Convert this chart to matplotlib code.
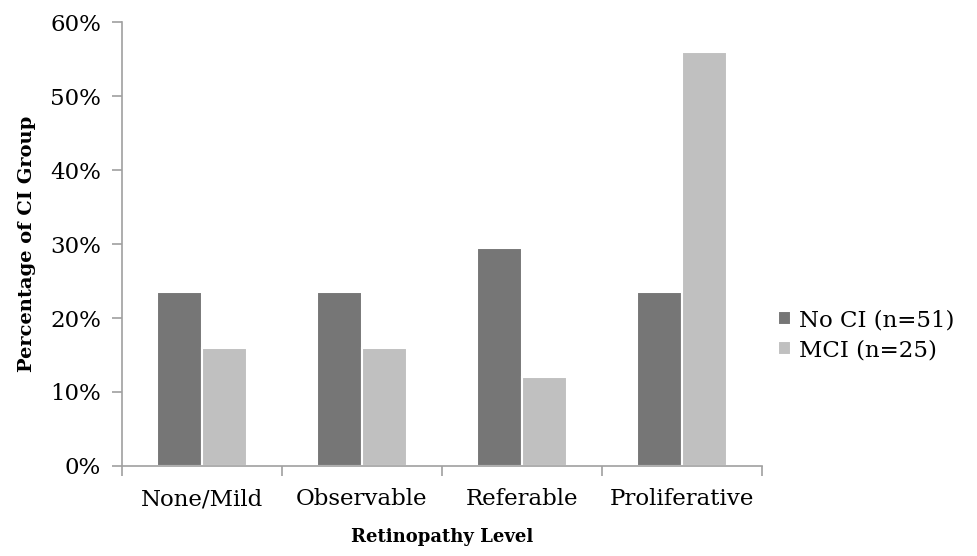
import matplotlib.pyplot as plt
import numpy as np
from matplotlib.ticker import PercentFormatter

categories = ["None/Mild", "Observable", "Referable", "Proliferative"]
no_ci = [12 / 51, 12 / 51, 15 / 51, 12 / 51]
mci = [4 / 25, 4 / 25, 3 / 25, 14 / 25]
series_labels = ["No CI (n=51)", "MCI (n=25)"]

plt.rcParams['font.family'] = ['DejaVu Serif']

fig = plt.figure(figsize=(9.78, 5.56), dpi=100)
ax = fig.add_axes([0.1247, 0.162, 0.6545, 0.798])

x = np.arange(len(categories))
w = 0.28
ax.bar(x - w / 2, no_ci, w, color="#767676", edgecolor="white", linewidth=1.5,
       label=series_labels[0], zorder=3)
ax.bar(x + w / 2, mci, w, color="#c0c0c0", edgecolor="white", linewidth=1.5,
       label=series_labels[1], zorder=3)

ax.set_xlim(-0.5, len(categories) - 0.5)
ax.set_ylim(0, 0.6)
ax.set_yticks(np.arange(0, 0.61, 0.1))
ax.yaxis.set_major_formatter(PercentFormatter(1.0, decimals=0))
ax.set_xticks(x)
ax.set_xticklabels(categories)
ax.set_xticks(np.arange(-0.5, len(categories)), minor=True)
ax.tick_params(axis="x", which="major", length=0, pad=16, labelsize=16.5)
ax.tick_params(axis="x", which="minor", length=7, color="#a0a0a0", width=1.2)
ax.tick_params(axis="y", length=7, color="#a0a0a0", width=1.2, pad=8, labelsize=16.5)

for side in ["top", "right"]:
    ax.spines[side].set_visible(False)
for side in ["left", "bottom"]:
    ax.spines[side].set_color("#a0a0a0")
    ax.spines[side].set_linewidth(1.2)
    ax.spines[side].set_zorder(4)

ax.set_ylabel("Percentage of CI Group", fontsize=14, fontweight="bold", labelpad=10)
ax.set_xlabel("Retinopathy Level", fontsize=13, fontweight="bold", labelpad=13)

ax.legend(loc="center left", bbox_to_anchor=(1.0, 0.295), frameon=False, fontsize=16.5,
          handlelength=0.55, handleheight=0.55, handletextpad=0.35, labelspacing=0.35,
          borderaxespad=0.3)

fig.savefig("out.png", dpi=100)
